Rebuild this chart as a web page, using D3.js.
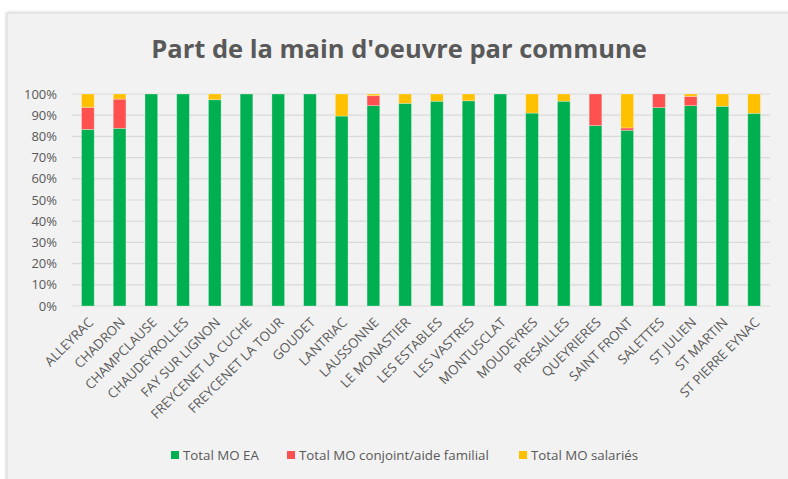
<!DOCTYPE html>
<html>
<head>
<meta charset="utf-8">
<script src="https://cdn.jsdelivr.net/npm/d3@7"></script>
<style>
  html, body { margin: 0; padding: 0; background: #ffffff; }
  svg { display: block; }
  text { font-family: "Open Sans", "DejaVu Sans", sans-serif; }
</style>
</head>
<body>
<svg id="chart" width="788" height="479"></svg>
<script>
// Communes (x categories)
const communes = [
  "ALLEYRAC", "CHADRON", "CHAMPCLAUSE", "CHAUDEYROLLES", "FAY SUR LIGNON",
  "FREYCENET LA CUCHE", "FREYCENET LA TOUR", "GOUDET", "LANTRIAC", "LAUSSONNE",
  "LE MONASTIER", "LES ESTABLES", "LES VASTRES", "MONTUSCLAT", "MOUDEYRES",
  "PRESAILLES", "QUEYRIERES", "SAINT FRONT", "SALETTES", "ST JULIEN",
  "ST MARTIN", "ST PIERRE EYNAC"
];

// Share of workforce (fractions of 1) per commune
const moEA = [
  0.833, 0.838, 1.000, 1.000, 0.973,
  1.000, 1.000, 1.000, 0.896, 0.945,
  0.956, 0.966, 0.968, 1.000, 0.910,
  0.966, 0.851, 0.829, 0.936, 0.945,
  0.942, 0.909
];
const moConjoint = [
  0.104, 0.138, 0.000, 0.000, 0.000,
  0.000, 0.000, 0.000, 0.000, 0.047,
  0.000, 0.000, 0.000, 0.000, 0.000,
  0.000, 0.149, 0.011, 0.064, 0.044,
  0.000, 0.000
];
const moSalaries = [
  0.063, 0.024, 0.000, 0.000, 0.027,
  0.000, 0.000, 0.000, 0.104, 0.008,
  0.044, 0.034, 0.032, 0.000, 0.090,
  0.034, 0.000, 0.160, 0.000, 0.011,
  0.058, 0.091
];

const seriesNames = ["Total MO EA", "Total MO conjoint/aide familial", "Total MO salariés"];
const seriesColors = ["#00b050", "#ff5050", "#ffc000"];
const yTicks = [0, 0.1, 0.2, 0.3, 0.4, 0.5, 0.6, 0.7, 0.8, 0.9, 1.0];
const title = "Part de la main d'oeuvre par commune";

const svg = d3.select("#chart");
const W = 788, H = 479;

// Chart panel with soft border
const defs = svg.append("defs");
const f = defs.append("filter").attr("id", "shadow").attr("x", "-5%").attr("y", "-5%").attr("width", "110%").attr("height", "110%");
f.append("feDropShadow").attr("dx", 0).attr("dy", 0).attr("stdDeviation", 1.5).attr("flood-color", "#000").attr("flood-opacity", 0.25);

svg.append("rect")
  .attr("x", 7).attr("y", 13).attr("width", W + 20).attr("height", H + 20)
  .attr("fill", "#f2f2f2").attr("stroke", "#d9d9d9").attr("stroke-width", 1)
  .attr("filter", "url(#shadow)");

const plot = { left: 72, right: 770, top: 94, bottom: 306 };

const x = d3.scaleBand()
  .domain(communes)
  .range([plot.left, plot.right])
  .paddingInner(0.6)
  .paddingOuter(0.3);

const y = d3.scaleLinear().domain([0, 1]).range([plot.bottom, plot.top]);

// Gridlines
svg.append("g")
  .selectAll("line")
  .data(yTicks)
  .join("line")
  .attr("x1", plot.left).attr("x2", plot.right)
  .attr("y1", d => y(d)).attr("y2", d => y(d))
  .attr("stroke", "#d9d9d9").attr("stroke-width", 1.2);

// Y axis labels
const yAxis = d3.axisLeft(y).tickValues(yTicks).tickFormat(d3.format(".0%")).tickSize(0).tickPadding(0);
const yg = svg.append("g").attr("transform", `translate(${plot.left - 15},0)`).call(yAxis);
yg.select(".domain").remove();
yg.selectAll("text").attr("font-size", 13).attr("fill", "#595959")
  .style("font-family", "'Open Sans', sans-serif");

// Stack
const rows = communes.map((c, i) => ({ commune: c, ea: moEA[i], conj: moConjoint[i], sal: moSalaries[i] }));
const stack = d3.stack().keys(["ea", "conj", "sal"]);
const layers = stack(rows);

svg.append("g")
  .selectAll("g")
  .data(layers)
  .join("g")
  .attr("fill", (d, i) => seriesColors[i])
  .selectAll("rect")
  .data(d => d.filter(s => s[1] - s[0] > 0))
  .join("rect")
  .attr("x", d => x(d.data.commune))
  .attr("width", x.bandwidth())
  .attr("y", d => y(d[1]))
  .attr("height", d => y(d[0]) - y(d[1]))
  .attr("stroke", "rgba(255,255,255,0.35)")
  .attr("stroke-width", 0.8);

// X axis labels (rotated)
svg.append("g")
  .selectAll("text")
  .data(communes)
  .join("text")
  .attr("transform", d => `translate(${x(d) + x.bandwidth() / 2 + 3},${plot.bottom + 14}) rotate(-45)`)
  .attr("text-anchor", "end")
  .attr("dy", "0.35em")
  .attr("font-size", 13.3)
  .attr("fill", "#595959")
  .text(d => d);

// Title
svg.append("text")
  .attr("x", 399).attr("y", 58)
  .attr("text-anchor", "middle")
  .attr("font-size", 25.5)
  .attr("font-weight", 700)
  .attr("fill", "#595959")
  .text(title);

// Legend
const legendItems = [
  { name: seriesNames[0], color: seriesColors[0], x: 171 },
  { name: seriesNames[1], color: seriesColors[1], x: 287 },
  { name: seriesNames[2], color: seriesColors[2], x: 519 }
];
const lg = svg.append("g");
legendItems.forEach(it => {
  lg.append("rect").attr("x", it.x).attr("y", 451).attr("width", 8).attr("height", 8).attr("fill", it.color);
  lg.append("text").attr("x", it.x + 12).attr("y", 455).attr("dy", "0.35em")
    .attr("font-size", 13.3).attr("fill", "#595959").text(it.name);
});
</script>
</body>
</html>
